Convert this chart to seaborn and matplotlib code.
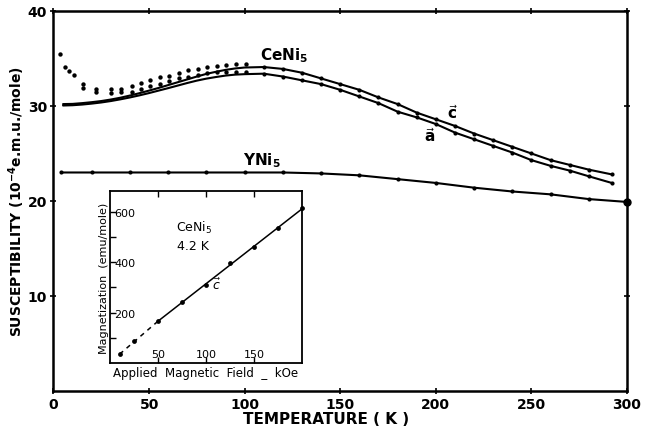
import matplotlib
matplotlib.use("Agg")
import matplotlib.pyplot as plt
import seaborn as sns
import pandas as pd

# ---------------- data ----------------
# CeNi5 smooth curves: c-axis (upper) and a-axis (lower)
curve_T = [5, 10, 15, 20, 25, 30, 35, 40, 45, 50, 55, 60, 65, 70, 75, 80, 85, 90, 95, 100,
           110, 120, 130, 140, 150, 160, 170, 180, 190, 200, 210, 220, 230, 240, 250, 260,
           270, 280, 292]
chi_c_curve = [30.2, 30.22, 30.3, 30.4, 30.52, 30.68, 30.87, 31.1, 31.35, 31.62, 31.9, 32.2,
               32.5, 32.8, 33.1, 33.38, 33.6, 33.8, 33.95, 34.05,
               34.1, 33.9, 33.5, 32.9, 32.3, 31.7, 30.9, 30.2, 29.3, 28.6, 27.9, 27.1, 26.4,
               25.7, 25.0, 24.3, 23.8, 23.3, 22.8]
chi_a_curve = [30.05, 30.08, 30.15, 30.25, 30.37, 30.52, 30.7, 30.9, 31.12, 31.36, 31.62,
               31.88, 32.15, 32.42, 32.67, 32.88, 33.05, 33.2, 33.3, 33.35,
               33.4, 33.1, 32.7, 32.3, 31.7, 31.0, 30.3, 29.4, 28.8, 28.1, 27.2, 26.5, 25.8,
               25.1, 24.3, 23.7, 23.2, 22.6, 21.9]

# CeNi5 low-temperature measured dots
dots_c_T = [3.5, 6, 8, 10.5, 15.5, 22.5, 30, 35.5, 41, 46, 50.5, 55.5, 60.5, 65.5, 70.5,
            75.5, 80.5, 85.5, 90.5, 95.5, 100.5]
dots_c_chi = [35.5, 34.15, 33.65, 33.3, 32.3, 31.8, 31.8, 31.8, 32.1, 32.45, 32.7, 33.0,
              33.2, 33.5, 33.75, 33.9, 34.1, 34.2, 34.3, 34.4, 34.4]
dots_a_T = [15.5, 22.5, 30, 35.5, 41, 46, 50.5, 55.5, 60.5, 65.5, 70.5, 75.5, 80.5, 85.5,
            90.5, 95.5, 100.5]
dots_a_chi = [31.9, 31.5, 31.4, 31.45, 31.5, 31.8, 32.1, 32.35, 32.6, 32.9, 33.1, 33.3,
              33.5, 33.6, 33.6, 33.6, 33.6]

# YNi5
y_T = [4, 20, 40, 60, 80, 100, 120, 140, 160, 180, 200, 220, 240, 260, 280, 300]
y_chi = [23.0, 23.0, 23.0, 23.0, 23.0, 23.0, 23.0, 22.9, 22.7, 22.3, 21.9, 21.4, 21.0,
         20.7, 20.2, 19.9]

# Inset: magnetization vs field at 4.2 K
field = [10, 25, 50, 75, 100, 125, 150, 175, 200]
magn = [35, 86, 166, 241, 309, 396, 459, 538, 614]
fit_field = [50, 200]
fit_magn = [166, 612]
ext_field = [10, 50]
ext_magn = [35, 166]

x_ticks = [0, 50, 100, 150, 200, 250, 300]
y_ticks = [10, 20, 30, 40]
in_x_ticks = [50, 100, 150]
in_y_ticks = [100, 200, 300, 400, 500, 600]
in_y_labels = ["", "200", "", "400", "", "600"]

# ---------------- plotting ----------------
sns.set_style("ticks")
plt.rcParams["font.family"] = ["DejaVu Sans"]
for key in ["text.color", "axes.labelcolor", "xtick.color", "ytick.color",
            "axes.edgecolor"]:
    plt.rcParams[key] = "black"

fig = plt.figure(figsize=(6.53, 4.31), dpi=100)
ax = fig.add_axes([0.0819, 0.0905, 0.8783, 0.8817])

df_curve = pd.DataFrame({"T": curve_T, "c": chi_c_curve, "a": chi_a_curve})
for col in ["c", "a"]:
    sns.lineplot(data=df_curve, x="T", y=col, ax=ax, color="black", lw=1.5,
                 sort=False, estimator=None)
    hi = df_curve[df_curve["T"] >= 110]
    sns.scatterplot(data=hi, x="T", y=col, ax=ax, color="black", s=9, linewidth=0)

sns.scatterplot(x=dots_c_T, y=dots_c_chi, ax=ax, color="black", s=10, linewidth=0)
sns.scatterplot(x=dots_a_T, y=dots_a_chi, ax=ax, color="black", s=10, linewidth=0)

sns.lineplot(x=y_T, y=y_chi, ax=ax, color="black", lw=1.5, sort=False, estimator=None)
sns.scatterplot(x=y_T[:-1], y=y_chi[:-1], ax=ax, color="black", s=9, linewidth=0)
ax.scatter(y_T[-1:], y_chi[-1:], color="black", s=25, zorder=5, clip_on=False)

ax.set_xlim(0, 300)
ax.set_ylim(0, 40)
ax.set_xticks(x_ticks)
ax.set_yticks(y_ticks)
ax.tick_params(direction="inout", length=5, width=1.2, top=True, right=True,
               labelsize=10, pad=2, colors="black")
for lbl in ax.get_xticklabels() + ax.get_yticklabels():
    lbl.set_fontweight("bold")
for s in ax.spines.values():
    s.set_linewidth(1.8)
    s.set_color("black")
    s.set_visible(True)

ax.set_xlabel("TEMPERATURE ( K )", fontsize=11, fontweight="bold", color="black")
ax.xaxis.set_label_coords(0.475, -0.052)
ax.set_ylabel(r"SUSCEPTIBILITY (10$^{\mathbf{-4}}$e.m.u./mole)", fontsize=10,
              fontweight="bold", color="black")
ax.yaxis.set_label_coords(-0.046, 0.5)

ax.text(120.5, 35.4, r"$\mathbf{CeNi_5}$", fontsize=11, ha="center", va="center")
ax.text(109, 24.3, r"$\mathbf{YNi_5}$", fontsize=11, ha="center", va="center")
ax.text(208.5, 29.4, r"$\vec{\mathbf{c}}$", fontsize=11, ha="center", va="center")
ax.text(197, 26.9, r"$\vec{\mathbf{a}}$", fontsize=11, ha="center", va="center")

# ---------------- inset ----------------
axin = fig.add_axes([110 / 653, 1 - 364 / 431, 192 / 653, 172 / 431])
sns.lineplot(x=fit_field, y=fit_magn, ax=axin, color="black", lw=1.1, estimator=None)
sns.lineplot(x=ext_field, y=ext_magn, ax=axin, color="black", lw=1.1, estimator=None,
             linestyle=(0, (3, 3)))
sns.scatterplot(x=field, y=magn, ax=axin, color="black", s=12, linewidth=0, clip_on=False)
axin.set_xlim(0, 200)
axin.set_ylim(0, 683)
axin.set_xticks(in_x_ticks)
axin.set_yticks(in_y_ticks)
axin.set_yticklabels(in_y_labels)
axin.tick_params(axis="both", direction="in", length=4, width=1, labelsize=8,
                 colors="black")
axin.tick_params(axis="x", top=True, pad=-3)
axin.tick_params(axis="y", pad=-3)
for lbl in axin.get_yticklabels():
    lbl.set_horizontalalignment("left")
for lbl in axin.get_xticklabels():
    lbl.set_verticalalignment("bottom")
for s in axin.spines.values():
    s.set_linewidth(1.3)
    s.set_color("black")
    s.set_visible(True)
axin.set_xlabel("Applied  Magnetic  Field  _  kOe", fontsize=8.5, labelpad=2)
axin.set_ylabel("Magnetization  (emu/mole)", fontsize=8, labelpad=1)
axin.text(88, 540, r"CeNi$_5$", fontsize=9, ha="center", va="center")
axin.text(86, 467, "4.2 K", fontsize=9, ha="center", va="center")
axin.text(111, 313, r"$\vec{c}$", fontsize=9, ha="center", va="center")

fig.savefig("out.png", dpi=100)
